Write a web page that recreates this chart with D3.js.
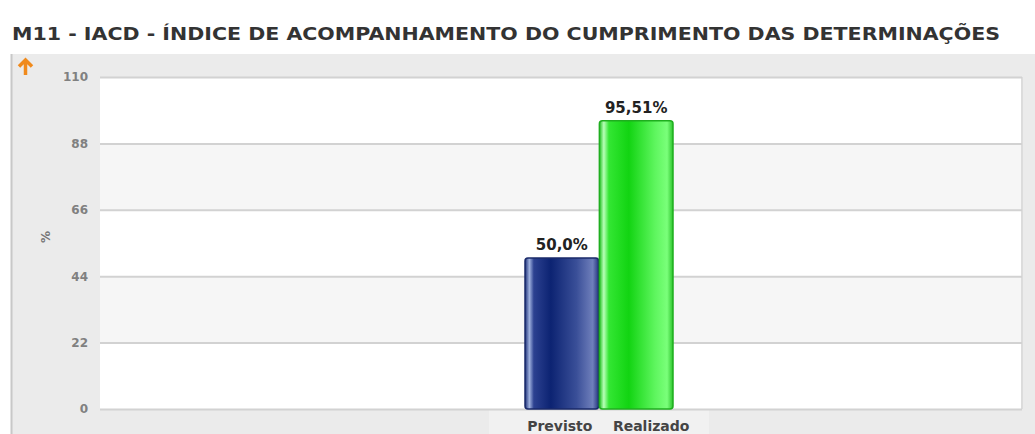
<!DOCTYPE html>
<html>
<head>
<meta charset="utf-8">
<script src="https://cdn.jsdelivr.net/npm/d3@7"></script>
<style>
body{margin:0;background:#fff;}
text{font-family:"DejaVu Sans",Verdana,sans-serif;}
</style>
</head>
<body>
<svg id="chart"></svg>
<script>
// chart data
var titleText = "M11 - IACD - ÍNDICE DE ACOMPANHAMENTO DO CUMPRIMENTO DAS DETERMINAÇÕES";
var series = ["Previsto","Realizado"];
var values = [50.0, 95.51];
var valueLabels = ["50,0%","95,51%"];
var yTicks = [0,22,44,66,88,110];
var yLabel = "%";

var screen = {width:1035,height:434};
var margins = {left:100,right:13,top:77,bottom:25};
var graph = {
    width:screen.width-margins.left-margins.right,
    height:screen.height-margins.top-margins.bottom
};

var svg = d3.select("#chart")
    .attr("width",screen.width)
    .attr("height",screen.height);

var defs = svg.append("defs");

var makeGrad = function(id,stops)
{
    var g = defs.append("linearGradient").attr("id",id)
        .attr("x1","0%").attr("x2","100%").attr("y1","0%").attr("y2","0%");
    stops.forEach(function(s){
        g.append("stop").attr("offset",s[0]).attr("stop-color",s[1]);
    });
}
makeGrad("gBlue",[["0%","#1c2f78"],["6%","#9fb1de"],["12%","#2c4190"],["35%","#0c2372"],["70%","#3a4f98"],["92%","#6f7fbb"],["100%","#24367e"]]);
makeGrad("gGreen",[["0%","#1fbf1f"],["6%","#b8ffb8"],["13%","#33e633"],["40%","#12d412"],["75%","#5df55d"],["92%","#7aff7a"],["100%","#2cc42c"]]);

// panel background
svg.append("rect")
    .attr("x",11).attr("y",54)
    .attr("width",screen.width-11).attr("height",screen.height-54)
    .attr("fill","#ebebeb");
svg.append("line")
    .attr("x1",11.5).attr("x2",11.5).attr("y1",54).attr("y2",screen.height)
    .attr("stroke","#c8c8c8").attr("stroke-width",2);

// title
svg.append("text")
    .text(titleText)
    .attr("x",12).attr("y",40)
    .attr("font-size",18).attr("font-weight","bold")
    .attr("fill","#333")
    .attr("textLength",988).attr("lengthAdjust","spacingAndGlyphs");

// orange arrow
svg.append("path")
    .attr("d","M25.5,75 L25.5,60 M19,66.5 L25.5,60 L32,66.5")
    .attr("fill","none")
    .attr("stroke","#f08a1c").attr("stroke-width",3.5)
    .attr("stroke-linejoin","miter");

var yScale = d3.scaleLinear()
    .domain([0,110])
    .range([graph.height,0]);

var target = svg.append("g")
    .attr("transform","translate("+margins.left+","+margins.top+")");

// plot background with alternating bands
target.append("rect")
    .attr("x",0).attr("y",0)
    .attr("width",graph.width).attr("height",graph.height)
    .attr("fill","#fff");
target.selectAll(".band")
    .data(d3.pairs(yTicks).filter(function(p,i){return i%2==1;}))
    .enter()
    .append("rect")
    .attr("x",0)
    .attr("y",function(p){return yScale(p[1]);})
    .attr("width",graph.width)
    .attr("height",function(p){return yScale(p[0])-yScale(p[1]);})
    .attr("fill","#f6f6f6");
target.append("line")
    .attr("x1",graph.width).attr("x2",graph.width)
    .attr("y1",0).attr("y2",graph.height)
    .attr("stroke","#dcdcdc").attr("stroke-width",2);

// category label band
var groupCenter = 599;
var barW = 74;
var xScale = d3.scaleBand()
    .domain(series)
    .range([groupCenter-margins.left-barW, groupCenter-margins.left+barW])
    .paddingInner(0.01);

target.append("rect")
    .attr("x",xScale.range()[0]-36).attr("y",graph.height)
    .attr("width",xScale.range()[1]-xScale.range()[0]+72)
    .attr("height",margins.bottom)
    .attr("fill","#f1f1f1");

// gridlines
var yAxis = d3.axisLeft(yScale)
    .tickValues(yTicks)
    .tickSize(-graph.width)
    .tickPadding(12);
var ya = target.append("g").call(yAxis);
ya.select(".domain").remove();
ya.selectAll("line").attr("stroke","#d2d2d2").attr("stroke-width",2);
ya.selectAll("text")
    .attr("fill","#808080").attr("font-size",12).attr("font-weight","bold")
    .attr("font-family","DejaVu Sans, sans-serif");

svg.append("text")
    .text(yLabel)
    .attr("transform","translate(50,"+(margins.top+graph.height/2-6)+") rotate(-90)")
    .attr("text-anchor","middle")
    .attr("fill","#777").attr("font-size",12).attr("font-weight","bold");

// bars
var fills = ["url(#gBlue)","url(#gGreen)"];
var strokes = ["#1a2a6a","#1fae1f"];
target.selectAll(".bar")
    .data(values)
    .enter()
    .append("rect")
    .attr("class","bar")
    .attr("x",function(d,i){return xScale(series[i]);})
    .attr("y",function(d){return yScale(d);})
    .attr("width",xScale.bandwidth())
    .attr("height",function(d){return graph.height-yScale(d);})
    .attr("rx",3)
    .attr("fill",function(d,i){return fills[i];})
    .attr("stroke",function(d,i){return strokes[i];})
    .attr("stroke-width",1.5);

// value labels
target.selectAll(".vlabel")
    .data(values)
    .enter()
    .append("text")
    .text(function(d,i){return valueLabels[i];})
    .attr("x",function(d,i){return xScale(series[i])+xScale.bandwidth()/2;})
    .attr("y",function(d){return yScale(d)-8;})
    .attr("text-anchor","middle")
    .attr("font-size",15).attr("font-weight","bold")
    .attr("fill","#222");

// category labels (the second one sits a bit to the right in the original)
var labelShift = [-2,15];
target.selectAll(".clabel")
    .data(series)
    .enter()
    .append("text")
    .text(function(d){return d;})
    .attr("x",function(d,i){return xScale(d)+xScale.bandwidth()/2+labelShift[i];})
    .attr("y",graph.height+22)
    .attr("text-anchor","middle")
    .attr("font-size",14).attr("font-weight","bold")
    .attr("fill","#444");
</script>
</body>
</html>
